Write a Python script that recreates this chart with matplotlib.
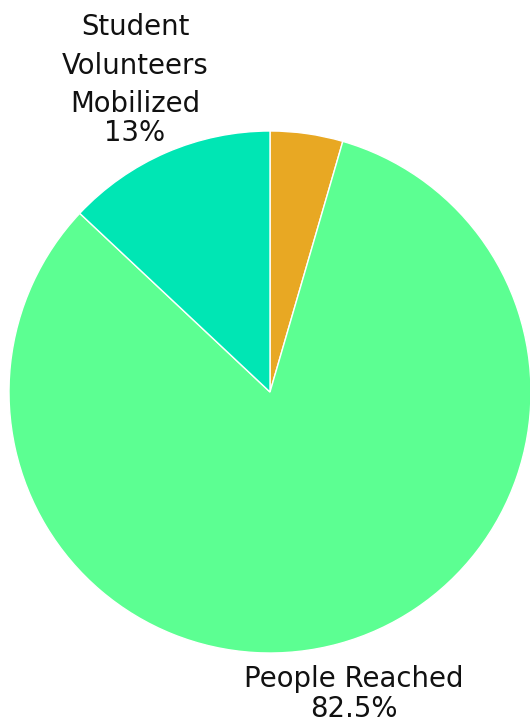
import matplotlib
matplotlib.use("Agg")
import matplotlib.pyplot as plt

categories = ["Other", "People Reached", "Student Volunteers Mobilized"]
values = [4.5, 82.5, 13.0]
colors = ["#E8A823", "#5CFF92", "#00E6B4"]
label_lines = {
    "People Reached": ["People Reached", "82.5%"],
    "Student Volunteers Mobilized": ["Student", "Volunteers", "Mobilized", "13%"],
}

W, H = 530, 724
fig = plt.figure(figsize=(W / 100, H / 100), dpi=100)
cx, cy, r = 270, 392, 261
ax = fig.add_axes([(cx - r) / W, (H - cy - r) / H, 2 * r / W, 2 * r / H])
ax.pie(values, colors=colors, startangle=90, counterclock=False, radius=1,
       wedgeprops=dict(linewidth=1, edgecolor="white"))
ax.set_xlim(-1, 1)
ax.set_ylim(-1, 1)
ax.set_aspect("auto")
ax.axis("off")

font = dict(family=["DejaVu Sans"], size=19.8, color="#111111")
# Student Volunteers label
ys1 = [27, 66, 104, 133]
for line, y in zip(label_lines["Student Volunteers Mobilized"], ys1):
    fig.text(135 / W, 1 - y / H, line, ha="center", va="center", **font)
ys2 = [679, 709]
for line, y in zip(label_lines["People Reached"], ys2):
    fig.text(354 / W, 1 - y / H, line, ha="center", va="center", **font)

fig.savefig("out.png", dpi=100, facecolor="white")
